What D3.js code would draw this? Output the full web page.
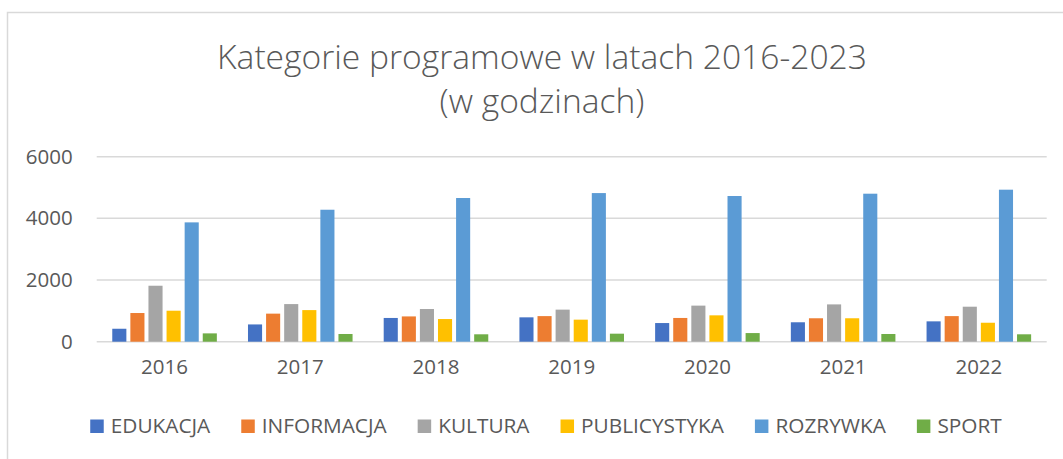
<!DOCTYPE html>
<html lang="pl">
<head>
    <meta charset="UTF-8">
    <title>Kategorie programowe w latach 2016-2023</title>
    <script src="https://d3js.org/d3.v7.min.js"></script>
    <style>
        body { margin: 0; background: #fff; }
        text { font-family: "Open Sans", "Liberation Sans", sans-serif; fill: #595959; }
        .grid line { stroke: #d9d9d9; stroke-width: 1.5; }
    </style>
</head>
<body>
    <svg width="1063" height="459"></svg>

    <script>
        // dane
        const years = ["2016", "2017", "2018", "2019", "2020", "2021", "2022"];
        const categories = ["EDUKACJA", "INFORMACJA", "KULTURA", "PUBLICYSTYKA", "ROZRYWKA", "SPORT"];
        const edukacja     = [420, 560, 770, 790, 605, 630, 660];
        const informacja   = [930, 910, 820, 830, 770, 760, 830];
        const kultura      = [1815, 1220, 1060, 1040, 1170, 1210, 1135];
        const publicystyka = [1005, 1025, 735, 715, 855, 760, 615];
        const rozrywka     = [3870, 4280, 4660, 4820, 4725, 4800, 4930];
        const sport        = [270, 250, 240, 260, 280, 250, 240];
        const yTicks = [0, 2000, 4000, 6000];
        const colors = ["#4472C4", "#ED7D31", "#A5A5A5", "#FFC000", "#5B9BD5", "#70AD47"];

        const seriesValues = [edukacja, informacja, kultura, publicystyka, rozrywka, sport];
        const table = years.map((y, i) => ({
            year: y,
            values: categories.map((c, j) => ({ key: c, value: seriesValues[j][i] }))
        }));

        const width = 1063;
        const height = 459;
        const plot = { left: 96.7, right: 1046.7, top: 156.7, bottom: 341.7 };

        const svg = d3.select("svg");

        // ramka wykresu
        svg.append("path")
            .attr("d", `M7.5,${height} V12.5 H${width}`)
            .attr("fill", "none")
            .attr("stroke", "#d9d9d9")
            .attr("stroke-width", 1.5);

        const x0 = d3.scaleBand()
            .domain(years)
            .range([plot.left, plot.right]);

        const x1 = d3.scaleBand()
            .domain(categories)
            .range([x0.bandwidth() * 0.1, x0.bandwidth() * 0.9]);

        const y = d3.scaleLinear()
            .domain([0, 6000])
            .range([plot.bottom, plot.top]);

        // linie siatki
        svg.append("g")
            .attr("class", "grid")
            .selectAll("line")
            .data(yTicks)
            .join("line")
            .attr("x1", plot.left)
            .attr("x2", plot.right)
            .attr("y1", d => y(d))
            .attr("y2", d => y(d));

        // oś Y
        const yAxis = svg.append("g")
            .attr("transform", `translate(${plot.left}, 0)`)
            .call(d3.axisLeft(y).tickValues(yTicks).tickFormat(d3.format("d")).tickSize(0).tickPadding(24));
        yAxis.select(".domain").remove();
        yAxis.selectAll("text").style("font-size", "20.5px").attr("fill", "#595959");

        // oś X
        const xAxis = svg.append("g")
            .attr("transform", `translate(0, ${plot.bottom})`)
            .call(d3.axisBottom(x0).tickSize(0).tickPadding(18));
        xAxis.select(".domain").remove();
        xAxis.selectAll("text").style("font-size", "20.5px").attr("fill", "#595959");

        // słupki
        svg.append("g")
            .selectAll("g")
            .data(table)
            .join("g")
            .attr("transform", d => `translate(${x0(d.year)}, 0)`)
            .selectAll("rect")
            .data(d => d.values)
            .join("rect")
            .attr("x", d => x1(d.key) + 2)
            .attr("width", x1.bandwidth() - 4)
            .attr("y", d => y(d.value))
            .attr("height", d => y(0) - y(d.value))
            .attr("fill", (d, i) => colors[i]);

        // tytuł
        const title = svg.append("text")
            .attr("text-anchor", "middle")
            .attr("x", 542)
            .style("font-weight", 300)
            .style("font-size", "33.6px");
        title.append("tspan").attr("x", 542).attr("y", 69).text("Kategorie programowe w latach 2016-2023");
        title.append("tspan").attr("x", 542).attr("y", 113).text("(w godzinach)");

        // legenda
        const legend = svg.append("g").attr("transform", "translate(0, 433)");
        const items = legend.selectAll("g")
            .data(categories)
            .join("g");
        items.append("rect")
            .attr("y", -13.5)
            .attr("width", 13.5)
            .attr("height", 13.5)
            .attr("fill", (d, i) => colors[i]);
        items.append("text")
            .attr("x", 20.5)
            .style("font-size", "20.8px")
            .text(d => d);

        let cx = 0;
        items.each(function () {
            const w = d3.select(this).select("text").node().getComputedTextLength();
            d3.select(this).attr("transform", `translate(${cx}, 0)`);
            cx += 20.5 + w + 31;
        });
        const legendWidth = cx - 31;
        legend.attr("transform", `translate(${546 - legendWidth / 2}, 433)`);
    </script>
</body>
</html>
